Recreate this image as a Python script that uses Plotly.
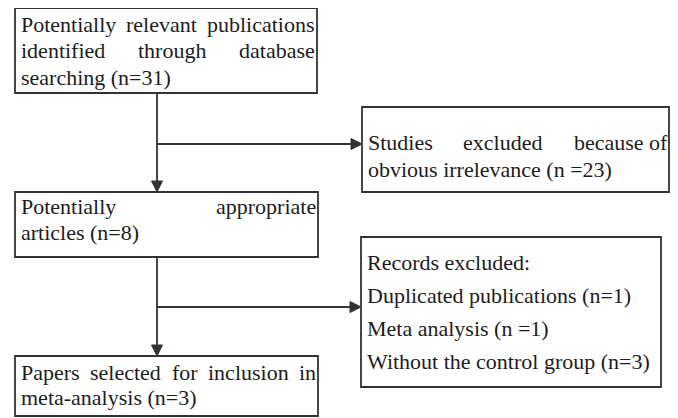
import plotly.graph_objects as go

# ---- content (text of each flowchart box) ----
box_names = ["identified", "excluded_irrelevant", "appropriate", "excluded_records", "included"]
box_lines = [
    ["Potentially|relevant|publications", "identified|through|database", "searching (n=31)"],
    ["Studies|excluded|because of", "obvious irrelevance (n =23)"],
    ["Potentially|appropriate", "articles (n=8)"],
    ["Records excluded:", "Duplicated publications (n=1)", "Meta analysis (n =1)",
     "Without the control group (n=3)"],
    ["Papers|selected|for|inclusion|in", "meta-analysis (n=3)"],
]
counts = [31, 23, 8, 5, 3]

# ---- layout geometry (page pixels, y downward) ----
W, H = 678, 418
OFF = 8  # page body margin
boxes = [(15, 8, 317, 93), (362, 107, 669, 192), (15, 192, 318, 257),
         (361, 237, 661, 387), (15, 356, 318, 416)]
first_off = [16, 35, 14, 25, 16]
spacing = [26.5, 27, 26, 33, 25]
pad_l, pad_r = 4, 4
FS = 22
FONT = "Liberation Serif, Times New Roman, serif"
TXT = "#1c1c1c"
LINE = "#333333"

# Times / Liberation Serif advance widths (per 1000 em)
tw = {' ': 250, '(': 333, ')': 333, '=': 564, ':': 278, '-': 333}
tw.update({d: 500 for d in "0123456789"})
tw.update(dict(zip("abcdefghijklmnopqrstuvwxyz",
                   [444, 500, 444, 500, 444, 333, 500, 500, 278, 278, 500, 278, 778,
                    500, 500, 500, 500, 333, 389, 278, 500, 500, 722, 500, 500, 444])))
tw.update(dict(zip("ABCDEFGHIJKLMNOPQRSTUVWXYZ",
                   [722, 667, 667, 722, 611, 556, 722, 722, 333, 389, 722, 611, 889,
                    722, 722, 556, 722, 667, 556, 611, 722, 722, 944, 722, 722, 611])))


def text_w(s):
    return sum(tw.get(c, 500) for c in s) / 1000 * FS


fig = go.Figure()
shapes = []
annotations = []

for (x0, y0, x1, y1) in boxes:
    shapes.append(dict(type="rect", xref="x", yref="y", x0=x0, y0=y0, x1=x1, y1=y1,
                       line=dict(color=LINE, width=1.8), fillcolor="white"))

for bi, lines in enumerate(box_lines):
    x0, y0, x1, y1 = boxes[bi]
    left, right = x0 + pad_l, x1 - pad_r
    for li, line in enumerate(lines):
        yc = y0 + first_off[bi] + li * spacing[bi]
        if "|" in line:
            words = line.split("|")
            widths = [text_w(w) for w in words]
            gap = (right - left - sum(widths)) / (len(words) - 1)
            x = left
            for w, ww in zip(words, widths):
                annotations.append(dict(x=x, y=yc, xref="x", yref="y", text=w,
                                        showarrow=False, xanchor="left", yanchor="middle",
                                        font=dict(family=FONT, size=FS, color=TXT)))
                x += ww + gap
        else:
            annotations.append(dict(x=left, y=yc, xref="x", yref="y", text=line,
                                    showarrow=False, xanchor="left", yanchor="middle",
                                    font=dict(family=FONT, size=FS, color=TXT)))

# connectors
spine_x = 157
branch_y = [144, 307]


def arrow_head(xt, yt, direction, L=11, hw=5.5):
    if direction == "down":
        p = f"M{xt},{yt} L{xt-hw},{yt-L} L{xt+hw},{yt-L} Z"
    else:
        p = f"M{xt},{yt} L{xt-L},{yt-hw} L{xt-L},{yt+hw} Z"
    return dict(type="path", xref="x", yref="y", path=p, fillcolor=LINE,
                line=dict(color=LINE, width=1))


def seg(xa, ya, xb, yb):
    return dict(type="line", xref="x", yref="y", x0=xa, y0=ya, x1=xb, y1=yb,
                line=dict(color=LINE, width=1.8))


# box1 -> box3
shapes.append(seg(spine_x, boxes[0][3], spine_x, boxes[2][1] - 8))
shapes.append(arrow_head(spine_x, boxes[2][1], "down"))
shapes.append(seg(spine_x, branch_y[0], boxes[1][0] - 8, branch_y[0]))
shapes.append(arrow_head(boxes[1][0], branch_y[0], "right"))
# box3 -> box5
shapes.append(seg(spine_x, boxes[2][3], spine_x, boxes[4][1] - 8))
shapes.append(arrow_head(spine_x, boxes[4][1], "down"))
shapes.append(seg(spine_x, branch_y[1], boxes[3][0] - 8, branch_y[1]))
shapes.append(arrow_head(boxes[3][0], branch_y[1], "right"))

fig.update_layout(
    width=W - OFF, height=H - OFF, margin=dict(l=0, r=0, t=0, b=0),
    paper_bgcolor="white", plot_bgcolor="white",
    xaxis=dict(range=[OFF, W], visible=False, fixedrange=True),
    yaxis=dict(range=[H, OFF], visible=False, fixedrange=True),
    shapes=shapes, annotations=annotations, showlegend=False,
)
fig.write_html("out.html", config={"displayModeBar": False})
